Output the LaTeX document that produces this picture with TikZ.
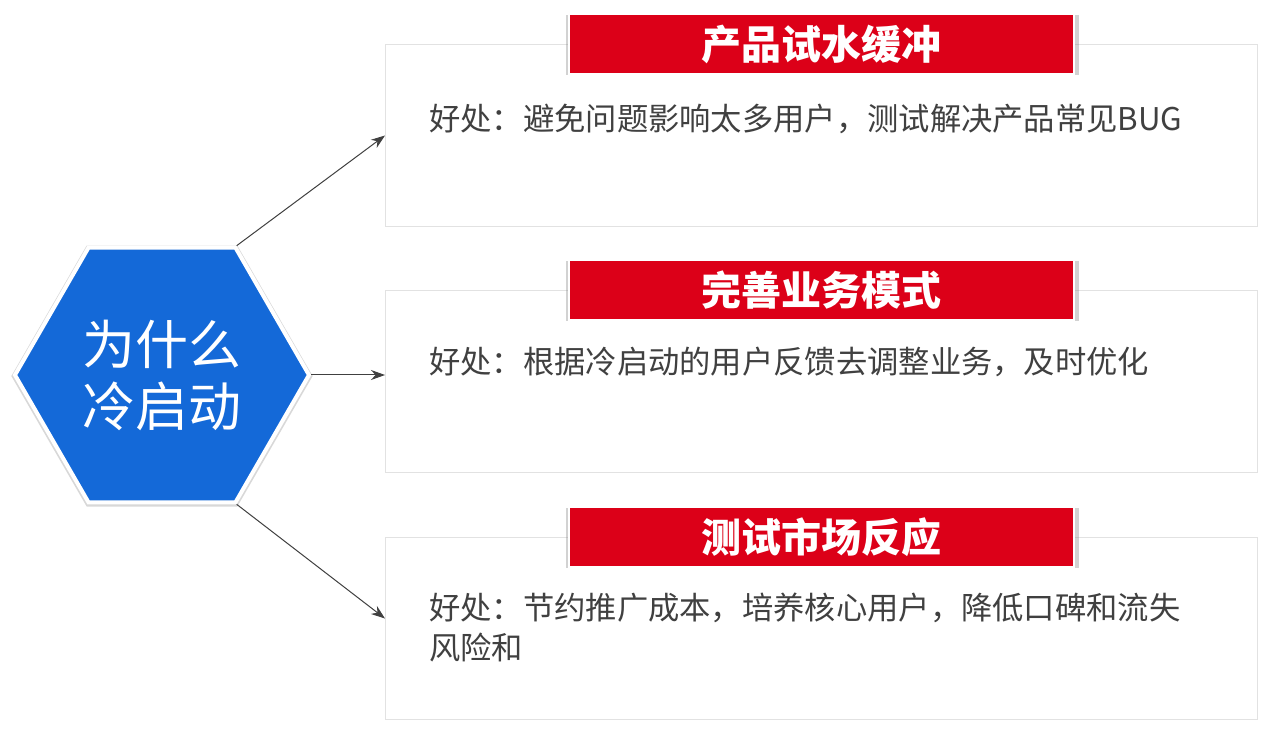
\documentclass[tikz,border=0pt]{standalone}
\usepackage{fontspec}
\setmainfont{Noto Sans CJK SC}
\usetikzlibrary{positioning,shapes.geometric,shadows,arrows.meta}

\definecolor{hexblue}{HTML}{1469D8}
\definecolor{bannerred}{HTML}{DC0018}
\definecolor{boxline}{HTML}{E2E2E2}
\definecolor{txtgray}{HTML}{404040}

\tikzset{
    hexnode/.style={regular polygon, regular polygon sides=6, minimum size=294pt, inner sep=0pt,
        fill=hexblue, draw=white, line width=4pt, text=white, align=center,
        font=\fontsize{53}{62}\selectfont,
        drop shadow={opacity=0.3, shadow xshift=0pt, shadow yshift=-1pt, shadow scale=1.025}},
    infobox/.style={draw=boxline, line width=1pt, minimum width=872pt, minimum height=182pt,
        anchor=north west, inner sep=0pt},
    banner/.style={fill=bannerred, draw=white, line width=2pt, minimum width=505pt, minimum height=60pt,
        text=white, font=\fontsize{40}{46}\selectfont\bfseries,
        drop shadow={opacity=0.35, shadow xshift=1pt, shadow yshift=-1pt, shadow scale=1.015}},
    infotext/.style={text=txtgray, font=\fontsize{31.3}{39.5}\selectfont, anchor=west, align=left, inner sep=0pt},
    link/.style={draw=black!75, line width=1pt, -{Stealth[length=14pt,width=10pt]}}
}

\begin{document}
\begin{tikzpicture}[x=1pt, y=-1pt]
    \useasboundingbox[fill=white] (0,0) rectangle (1278,736);

    % boxes
    \node[infobox] (box1) at (385,44) {};
    \node[infobox] (box2) at (385,290) {};
    \node[infobox] (box3) at (385,537) {};

    % titles
    \node[banner] (ban1) at (box1.north) {产品试水缓冲};
    \node[banner] (ban2) at (box2.north) {完善业务模式};
    \node[banner] (ban3) at (box3.north) {测试市场反应};

    \node[infotext] (txt1) at ([xshift=44pt,yshift=-75pt]box1.north west) {好处：避免问题影响太多用户，测试解决产品常见BUG};
    \node[infotext] (txt2) at ([xshift=44pt,yshift=-72pt]box2.north west) {好处：根据冷启动的用户反馈去调整业务，及时优化};
    \node[infotext, anchor=north west] (txt3) at ([xshift=44pt,yshift=-56pt]box3.north west) {好处：节约推广成本，培养核心用户，降低口碑和流失\\风险和};

    \node[hexnode] (hex) at (162,375) {为什么\\冷启动};

    \draw[link] (hex.60) -- (box1.west);
    \draw[link] (hex.east) -- (hex.east -| box2.west);
    \draw[link] (hex.-60) -- ([yshift=10pt]box3.west);
\end{tikzpicture}
\end{document}
